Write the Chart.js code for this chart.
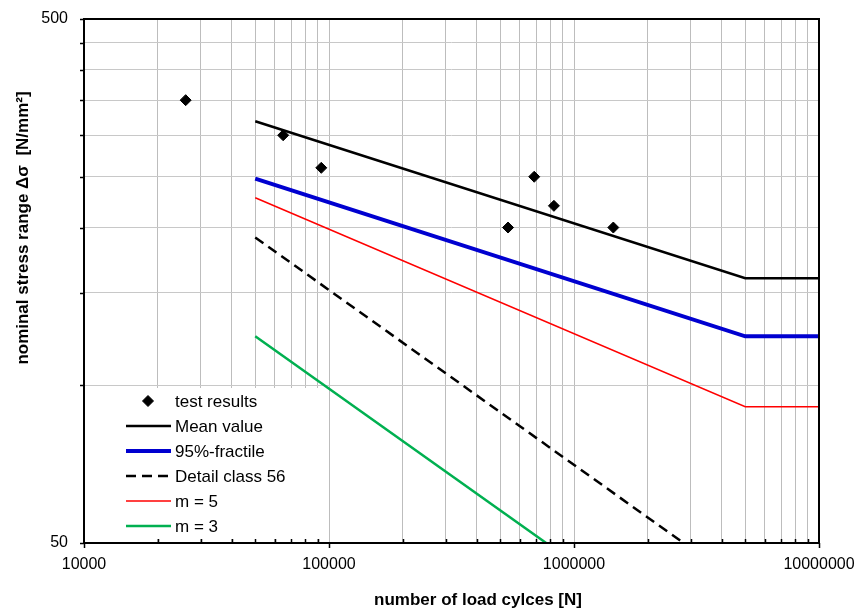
<!DOCTYPE html>
<html>
<head>
<meta charset="utf-8">
<title>S-N curve</title>
<script src="https://cdn.jsdelivr.net/npm/chart.js@4.4.1/dist/chart.umd.min.js"></script>
<style>
  html, body { margin: 0; padding: 0; background: #fff; }
  #wrap { width: 860px; height: 615px; position: relative; }
</style>
</head>
<body>
<div id="wrap"><canvas id="snChart" width="860" height="615"></canvas></div>
<script>
// test results: load cycles and stress range
const testCycles = [26000, 65000, 93000, 538000, 688000, 828000, 1447000];
const testStress = [350, 300, 260, 200, 250, 220, 200];

// S-N curves: break points (cycles) and stress range at each one
const meanCycles = [50000, 5000000, 10000000];
const meanStress = [319, 160, 160];
const fractileCycles = [50000, 5000000, 10000000];
const fractileStress = [248, 124, 124];
const detailCycles = [50000, 2800000];
const detailStress = [191.5, 50];
const m5Cycles = [50000, 5000000, 10000000];
const m5Stress = [228, 91, 91];
const m3Cycles = [50000, 770000];
const m3Stress = [124, 50];

// axis labels and grid
const xTickLabels = ['10000', '100000', '1000000', '10000000'];
const xDecades = [10000, 100000, 1000000];
const yTickLabels = ['50', '500'];
const yGridValues = [50, 100, 150, 200, 250, 300, 350, 400, 450, 500];

const FONT = "'Liberation Sans', Arial, sans-serif";
Chart.defaults.font.family = FONT;
Chart.defaults.color = '#000';

// minor grid on x: 1..9 per decade
const xGridValues = [];
xDecades.forEach(d => {
    for (let k = 1; k <= 9; k++) xGridValues.push(d * k);
});
xGridValues.push(10000000);

function toPoints(xs, ys) {
    return xs.map((x, i) => ({ x: x, y: ys[i] }));
}

function lineSet(label, xs, ys, color, width, dash) {
    return {
        label: label,
        data: toPoints(xs, ys),
        showLine: true,
        borderColor: color,
        backgroundColor: color,
        borderWidth: width,
        borderDash: dash || [],
        pointRadius: 0,
        pointHoverRadius: 0,
        tension: 0
    };
}

const datasets = [
    {
        label: 'test results',
        data: toPoints(testCycles, testStress),
        showLine: false,
        pointStyle: 'rectRot',
        pointRadius: 5.5,
        borderWidth: 1,
        borderColor: '#000',
        backgroundColor: '#000'
    },
    lineSet('Mean value', meanCycles, meanStress, '#000000', 2.5),
    lineSet('95%-fractile', fractileCycles, fractileStress, '#0000d0', 4),
    lineSet('Detail class 56', detailCycles, detailStress, '#000000', 2.5, [10, 6]),
    lineSet('m = 5', m5Cycles, m5Stress, '#ff0000', 1.5),
    lineSet('m = 3', m3Cycles, m3Stress, '#00b050', 2.5)
];

// legend box, plot frame, tick marks and axis titles
const decorPlugin = {
    id: 'decor',
    afterDatasetsDraw(chart) {
        const ctx = chart.ctx;
        const area = chart.chartArea;
        const xs = chart.scales.x;
        const ys = chart.scales.y;

        // legend inside the plot, bottom left
        ctx.save();
        ctx.fillStyle = '#fff';
        ctx.fillRect(100, 388, 222, 151);
        ctx.font = '17px ' + FONT;
        ctx.textBaseline = 'middle';
        ctx.textAlign = 'left';
        chart.data.datasets.forEach((ds, i) => {
            const y = 401 + i * 25;
            if (ds.showLine) {
                ctx.beginPath();
                ctx.strokeStyle = ds.borderColor;
                ctx.lineWidth = ds.borderWidth;
                ctx.setLineDash(ds.borderDash || []);
                ctx.moveTo(126, y);
                ctx.lineTo(171, y);
                ctx.stroke();
                ctx.setLineDash([]);
            } else {
                ctx.fillStyle = ds.backgroundColor;
                ctx.strokeStyle = ds.borderColor;
                ctx.lineWidth = ds.borderWidth;
                Chart.helpers.drawPoint(ctx, {
                    pointStyle: ds.pointStyle,
                    radius: ds.pointRadius,
                    borderWidth: ds.borderWidth
                }, 148, y);
            }
            ctx.fillStyle = '#000';
            ctx.fillText(ds.label, 175, y + 1);
        });
        ctx.restore();

        // frame
        ctx.save();
        ctx.strokeStyle = '#000';
        ctx.lineWidth = 2;
        ctx.strokeRect(area.left, area.top, area.right - area.left, area.bottom - area.top);

        // tick marks
        ctx.lineWidth = 1.5;
        ctx.beginPath();
        xGridValues.forEach(v => {
            const px = Math.round(xs.getPixelForValue(v)) + 0.5;
            if (xTickLabels.includes(String(v))) {
                ctx.moveTo(px, area.bottom);
                ctx.lineTo(px, area.bottom + 5);
            } else {
                ctx.moveTo(px, area.bottom - 4);
                ctx.lineTo(px, area.bottom);
            }
        });
        yGridValues.forEach(v => {
            const py = Math.round(ys.getPixelForValue(v)) + 0.5;
            ctx.moveTo(area.left - 4, py);
            ctx.lineTo(area.left, py);
        });
        ctx.stroke();
        ctx.restore();

        // axis titles
        ctx.save();
        ctx.fillStyle = '#000';
        ctx.font = 'bold 17px ' + FONT;
        ctx.textAlign = 'center';
        ctx.textBaseline = 'alphabetic';
        ctx.fillText('number of load cylces [N]', 478, 605);
        ctx.translate(28, 228);
        ctx.rotate(-Math.PI / 2);
        ctx.fillText('nominal stress range \u0394\u03c3  [N/mm\u00b2]', 0, 0);
        ctx.restore();
    }
};

const snChart = new Chart(document.getElementById('snChart'), {
    type: 'scatter',
    data: { datasets: datasets },
    options: {
        responsive: false,
        maintainAspectRatio: false,
        animation: false,
        devicePixelRatio: 1,
        layout: { padding: { top: 19, right: 41, bottom: 0, left: 0 } },
        plugins: {
            legend: { display: false },
            tooltip: { enabled: false }
        },
        scales: {
            x: {
                type: 'logarithmic',
                position: 'bottom',
                min: 10000,
                max: 10000000,
                afterBuildTicks: s => { s.ticks = xGridValues.map(v => ({ value: v })); },
                afterFit: s => {
                    s.height = 72;
                    s.paddingLeft = 0;
                    s.paddingRight = 0;
                },
                grid: { color: '#bdbdbd', lineWidth: 1, drawTicks: false },
                border: { display: false },
                ticks: {
                    autoSkip: false,
                    maxRotation: 0,
                    padding: 12,
                    font: { size: 16 },
                    callback: v => xTickLabels.includes(String(v)) ? String(v) : ''
                }
            },
            y: {
                type: 'logarithmic',
                min: 50,
                max: 500,
                afterBuildTicks: s => { s.ticks = yGridValues.map(v => ({ value: v })); },
                afterFit: s => {
                    s.width = 84;
                    s.paddingTop = 0;
                    s.paddingBottom = 0;
                },
                grid: { color: '#c8c8c8', lineWidth: 1, drawTicks: false },
                border: { display: false },
                ticks: {
                    autoSkip: false,
                    padding: 16,
                    font: { size: 16 },
                    callback: v => yTickLabels.includes(String(v)) ? String(v) : ''
                }
            }
        }
    },
    plugins: [decorPlugin]
});
</script>
</body>
</html>
